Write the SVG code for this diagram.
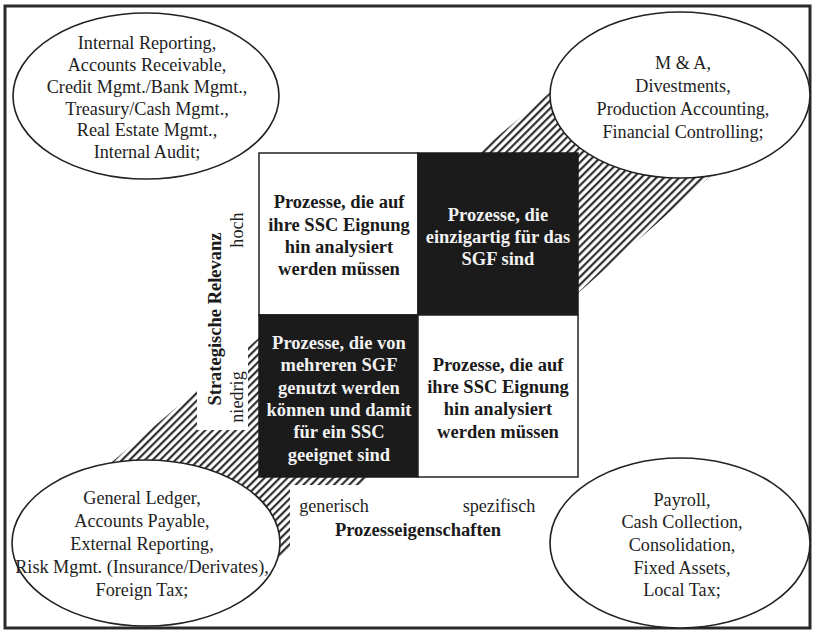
<svg xmlns="http://www.w3.org/2000/svg" width="816" height="634" viewBox="0 0 816 634">
<defs>
<pattern id="hatch" width="5.4" height="5.4" patternUnits="userSpaceOnUse" patternTransform="rotate(45)">
<rect width="5.4" height="5.4" fill="#fff"/>
<line x1="1.2" y1="0" x2="1.2" y2="5.4" stroke="#1a1a1a" stroke-width="2"/>
</pattern>
</defs>
<style>
.t{font-family:"Liberation Serif","Times New Roman",serif;font-size:18.2px;fill:#1e1e1e;text-anchor:middle}
.b{font-family:"Liberation Serif","Times New Roman",serif;font-size:18.5px;font-weight:bold;fill:#1a1a1a;text-anchor:middle}
.w{fill:#f2f2f2}
.ell{fill:#fff;stroke:#222;stroke-width:1.6}
.cellw{fill:#fff;stroke:#222;stroke-width:1.5}
.celld{fill:#1b1b1b;stroke:#1b1b1b;stroke-width:1.5}
</style>
<rect x="0" y="0" width="816" height="634" fill="#fff"/>
<rect x="5" y="6" width="805" height="622" fill="none" stroke="#2a2a2a" stroke-width="3"/>

<g id="band">
<polygon points="100,472 580,67 740,150 250,583" fill="url(#hatch)"/>
<rect x="197" y="180" width="51" height="250" fill="#fff"/>
<rect x="290" y="485" width="120" height="80" fill="#fff"/>
</g>

<g id="matrix">
<g id="cell-tl"><rect class="cellw" x="259" y="153" width="159" height="162"/>
<text class="b" x="339"><tspan x="339" y="208">Prozesse, die auf</tspan><tspan x="339" y="231">ihre SSC Eignung</tspan><tspan x="339" y="253">hin analysiert</tspan><tspan x="339" y="275">werden müssen</tspan></text></g>
<g id="cell-tr"><rect class="celld" x="418" y="153" width="160" height="162"/>
<text class="b w" x="498"><tspan x="498" y="221">Prozesse, die</tspan><tspan x="498" y="243">einzigartig für das</tspan><tspan x="498" y="265">SGF sind</tspan></text></g>
<g id="cell-bl"><rect class="celld" x="259" y="315" width="159" height="162"/>
<text class="b w" x="339"><tspan x="339" y="349">Prozesse, die von</tspan><tspan x="339" y="371">mehreren SGF</tspan><tspan x="339" y="394">genutzt werden</tspan><tspan x="339" y="416">können und damit</tspan><tspan x="339" y="438">für ein SSC</tspan><tspan x="339" y="461">geeignet sind</tspan></text></g>
<g id="cell-br"><rect class="cellw" x="418" y="315" width="160" height="162"/>
<text class="b" x="498"><tspan x="498" y="371">Prozesse, die auf</tspan><tspan x="498" y="393">ihre SSC Eignung</tspan><tspan x="498" y="415">hin analysiert</tspan><tspan x="498" y="438">werden müssen</tspan></text></g>
</g>

<g id="axes">
<text class="b" transform="translate(221,319) rotate(-90)" x="0" y="0">Strategische Relevanz</text>
<text class="t" transform="translate(243,230) rotate(-90)" x="0" y="0">hoch</text>
<text class="t" transform="translate(243,397) rotate(-90)" x="0" y="0">niedrig</text>
<text class="t" x="334" y="512">generisch</text>
<text class="t" x="499" y="512">spezifisch</text>
<text class="b" x="418" y="536">Prozesseigenschaften</text>
</g>

<g id="ellipse-tl"><ellipse class="ell" cx="146" cy="96" rx="133" ry="83"/>
<text class="t"><tspan x="147" y="49">Internal Reporting,</tspan><tspan x="147" y="71">Accounts Receivable,</tspan><tspan x="147" y="93">Credit Mgmt./Bank Mgmt.,</tspan><tspan x="147" y="115">Treasury/Cash Mgmt.,</tspan><tspan x="147" y="136">Real Estate Mgmt.,</tspan><tspan x="147" y="158">Internal Audit;</tspan></text></g>

<g id="ellipse-tr"><ellipse class="ell" cx="680" cy="95" rx="130" ry="83"/>
<text class="t"><tspan x="683" y="69">M &amp; A,</tspan><tspan x="683" y="92">Divestments,</tspan><tspan x="683" y="115">Production Accounting,</tspan><tspan x="683" y="138">Financial Controlling;</tspan></text></g>

<g id="ellipse-bl"><ellipse class="ell" cx="146" cy="543" rx="134" ry="83"/>
<text class="t"><tspan x="142" y="504">General Ledger,</tspan><tspan x="142" y="527">Accounts Payable,</tspan><tspan x="142" y="550">External Reporting,</tspan><tspan x="142" y="573">Risk Mgmt. (Insurance/Derivates),</tspan><tspan x="142" y="596">Foreign Tax;</tspan></text></g>

<g id="ellipse-br"><ellipse class="ell" cx="680" cy="543" rx="130" ry="85"/>
<text class="t"><tspan x="682" y="506">Payroll,</tspan><tspan x="682" y="528">Cash Collection,</tspan><tspan x="682" y="551">Consolidation,</tspan><tspan x="682" y="574">Fixed Assets,</tspan><tspan x="682" y="596">Local Tax;</tspan></text></g>
</svg>
